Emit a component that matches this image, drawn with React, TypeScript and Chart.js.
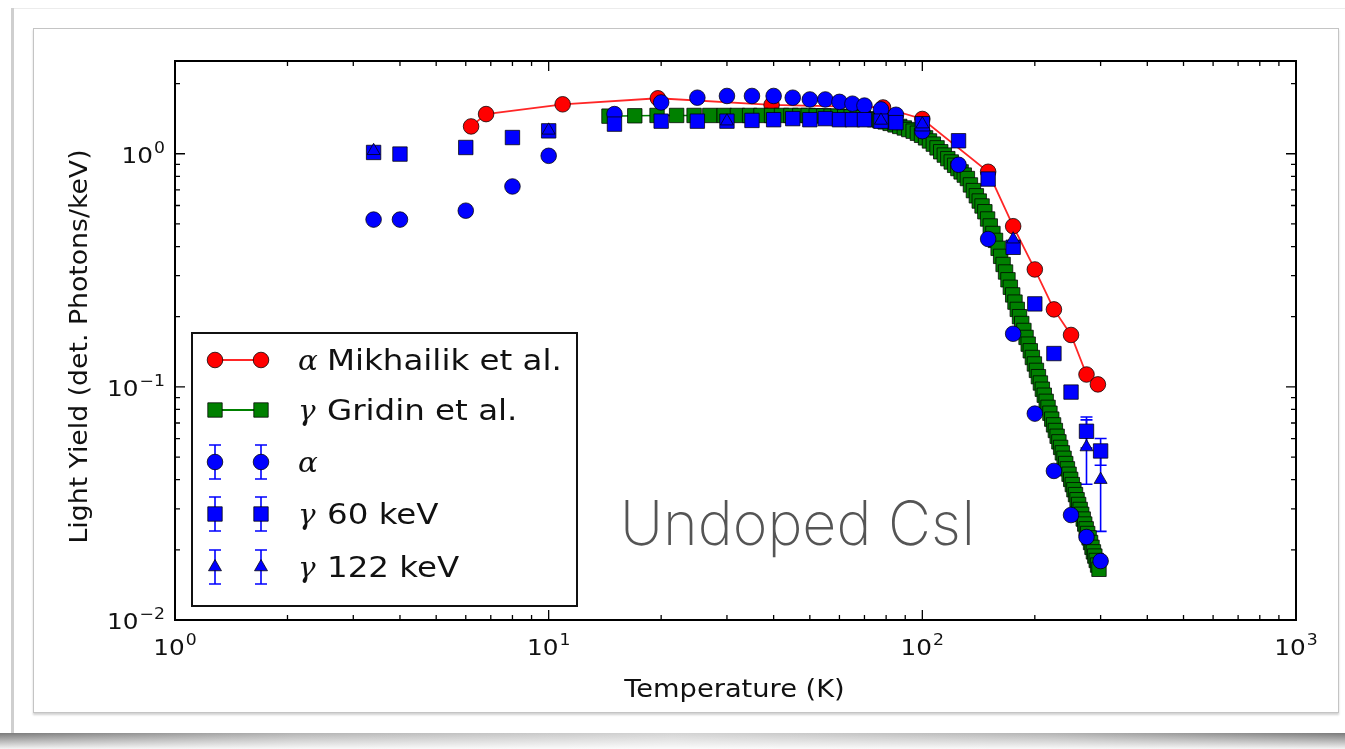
import React, { useEffect, useRef } from 'react';
import { Chart, registerables } from 'chart.js';

Chart.register(...registerables);

// ---------------- data ----------------
const mikhailikT = [6.2, 6.8, 10.9, 19.6, 39.5, 78.5, 100, 150, 175, 200, 225, 250, 275, 295];
const mikhailikLY = [1.31, 1.48, 1.63, 1.73, 1.62, 1.58, 1.41, 0.837, 0.489, 0.319, 0.215, 0.167, 0.113, 0.1025];

const gridinT = [
  14.5, 17, 19.5, 22, 24.5, 27, 29.5, 32, 34.5, 37,
  39.5, 42, 44.5, 47, 49.5, 52, 54.5, 57, 59.5, 62,
  64.5, 67, 69.5, 72, 74.5, 77, 79.5, 82, 84.5, 87,
  89.5, 92, 94.5, 97, 99.5, 102, 104.5, 107, 109.5, 112,
  114.5, 117, 119.5, 122, 124.5, 127, 129.5, 132, 134.5, 137,
  139.5, 142, 144.5, 147, 149.5, 152, 154.5, 157, 159.5, 162,
  164.5, 167, 169.5, 172, 174.5, 177, 179.5, 182, 184.5, 187,
  189.5, 192, 194.5, 197, 199.5, 202, 204.5, 207, 209.5, 212,
  214.5, 217, 219.5, 222, 224.5, 227, 229.5, 232, 234.5, 237,
  239.5, 242, 244.5, 247, 249.5, 252, 254.5, 257, 259.5, 262,
  264.5, 267, 269.5, 272, 274.5, 277, 279.5, 282, 284.5, 287,
  289.5, 292, 294.5, 297,
];
const gridinLY = [
  1.45, 1.455, 1.46, 1.46, 1.46, 1.46, 1.46, 1.46, 1.46, 1.46,
  1.46, 1.46, 1.46, 1.46, 1.46, 1.455, 1.455, 1.45, 1.45, 1.445,
  1.44, 1.435, 1.43, 1.415, 1.40, 1.385, 1.37, 1.35, 1.33, 1.31,
  1.29, 1.27, 1.25, 1.225, 1.20, 1.17, 1.135, 1.10, 1.06, 1.02,
  0.987, 0.953, 0.922, 0.892, 0.864, 0.836, 0.81, 0.783, 0.735, 0.695,
  0.66, 0.627, 0.597, 0.564, 0.525, 0.49, 0.455, 0.425, 0.393, 0.363,
  0.335, 0.311, 0.288, 0.2675, 0.248, 0.231, 0.215, 0.200, 0.187, 0.1746,
  0.163, 0.1525, 0.1428, 0.1337, 0.1254, 0.1177, 0.1106, 0.1039, 0.0977, 0.0921,
  0.0867, 0.0817, 0.0771, 0.0727, 0.0687, 0.0650, 0.0614, 0.0581, 0.0550, 0.0521,
  0.0494, 0.0469, 0.0445, 0.0422, 0.0401, 0.0381, 0.0362, 0.0345, 0.0328, 0.0313,
  0.0298, 0.0284, 0.0271, 0.0258, 0.0246, 0.0235, 0.0225, 0.0215, 0.0205, 0.0196,
  0.0188, 0.0180, 0.0172, 0.0165,
];

const alphaT = [3.4, 4, 6, 8, 10, 15, 20, 25, 30, 35, 40, 45, 50, 55, 60, 65, 70, 77.5, 85, 100, 125, 150, 175, 200, 225, 250, 275, 300];
const alphaLY = [0.522, 0.522, 0.570, 0.724, 0.98, 1.48, 1.66, 1.74, 1.77, 1.77, 1.77, 1.74, 1.71, 1.71, 1.67, 1.64, 1.61, 1.55, 1.47, 1.25, 0.897, 0.431, 0.169, 0.0768, 0.0436, 0.0282, 0.0227, 0.0179];

const gamma60T = [3.4, 4, 6, 8, 10, 15, 20, 25, 30, 35, 40, 45, 50, 55, 60, 65, 70, 77.5, 85, 100, 125, 150, 175, 200, 225, 250, 275, 300];
const gamma60LY = [1.013, 0.997, 1.064, 1.174, 1.254, 1.34, 1.38, 1.38, 1.38, 1.39, 1.40, 1.415, 1.40, 1.415, 1.40, 1.40, 1.40, 1.38, 1.36, 1.345, 1.137, 0.779, 0.397, 0.227, 0.139, 0.095, 0.0645, 0.0531];
const gamma60Err = [0, 0, 0, 0, 0, 0, 0, 0, 0, 0, 0, 0, 0, 0, 0, 0, 0, 0, 0, 0, 0, 0, 0, 0, 0, 0, 0.0098, 0.007];

const gamma122T = [3.4, 10, 30, 77.5, 100, 175, 275, 300];
const gamma122LY = [1.03, 1.26, 1.38, 1.39, 1.34, 0.43, 0.0552, 0.040];
const gamma122Err = [0, 0, 0, 0, 0, 0, 0.017, 0.016];

const xTickValues = [1, 10, 100, 1000];
const xTickExponents = ['0', '1', '2', '3'];
const yTickValues = [0.01, 0.1, 1];
const yTickExponents = ['\u22122', '\u22121', '0'];

const xTitle = 'Temperature (K)';
const yTitle = 'Light Yield (det. Photons/keV)';
const annotation = 'Undoped CsI';

const legendItems = [
  { greek: '\u03b1', text: 'Mikhailik et al.' },
  { greek: '\u03b3', text: 'Gridin et al.' },
  { greek: '\u03b1', text: '' },
  { greek: '\u03b3', text: '60 keV' },
  { greek: '\u03b3', text: '122 keV' },
];

// ---------------- styling ----------------
const RED = '#ff0000';
const GREEN = '#008000';
const BLUE = '#0000ff';
const EDGE = 'rgba(0,0,0,0.75)';
const R_CIRCLE = 7.8;
const R_RECT = 10.2;
const R_TRI = 7.5;

const toPts = (xs: number[], ys: number[]) => xs.map((x, i) => ({ x, y: ys[i] }));

function drawText(ctx: CanvasRenderingContext2D, s: string, x: number, y: number, font: string, sx: number, align: 'left' | 'center' | 'right', color = '#000') {
  ctx.save();
  ctx.font = font;
  ctx.fillStyle = color;
  ctx.textBaseline = 'alphabetic';
  ctx.textAlign = 'left';
  const w = ctx.measureText(s).width * sx;
  let x0 = x;
  if (align === 'center') x0 = x - w / 2;
  else if (align === 'right') x0 = x - w;
  ctx.translate(x0, y);
  ctx.scale(sx, 1);
  ctx.fillText(s, 0, 0);
  ctx.restore();
  return w;
}

function measure(ctx: CanvasRenderingContext2D, s: string, font: string, sx: number) {
  ctx.save();
  ctx.font = font;
  const w = ctx.measureText(s).width * sx;
  ctx.restore();
  return w;
}

const TICK_BASE = '21.5px "DejaVu Sans"';
const TICK_EXP = '15px "DejaVu Sans"';
const TICK_SX = 1.15;

function drawPow(ctx: CanvasRenderingContext2D, exp: string, x: number, y: number, align: 'center' | 'right') {
  const wb = measure(ctx, '10', TICK_BASE, TICK_SX);
  const we = measure(ctx, exp, TICK_EXP, TICK_SX);
  const total = wb + 1 + we;
  const x0 = align === 'center' ? x - total / 2 : x - total;
  drawText(ctx, '10', x0, y, TICK_BASE, TICK_SX, 'left', '#111');
  drawText(ctx, exp, x0 + wb + 1, y - 10, TICK_EXP, TICK_SX, 'left', '#111');
}

function marker(ctx: CanvasRenderingContext2D, style: string, x: number, y: number, fill: string) {
  ctx.beginPath();
  if (style === 'circle') {
    ctx.arc(x, y, R_CIRCLE, 0, Math.PI * 2);
  } else if (style === 'rect') {
    const s = R_RECT * Math.SQRT1_2;
    ctx.rect(x - s, y - s, 2 * s, 2 * s);
  } else {
    let rad = 0;
    ctx.moveTo(x + Math.sin(rad) * R_TRI, y - Math.cos(rad) * R_TRI);
    rad += (2 * Math.PI) / 3;
    ctx.lineTo(x + Math.sin(rad) * R_TRI, y - Math.cos(rad) * R_TRI);
    rad += (2 * Math.PI) / 3;
    ctx.lineTo(x + Math.sin(rad) * R_TRI, y - Math.cos(rad) * R_TRI);
    ctx.closePath();
  }
  ctx.fillStyle = fill;
  ctx.fill();
  ctx.lineWidth = 1;
  ctx.strokeStyle = EDGE;
  ctx.stroke();
}

function errBar(ctx: CanvasRenderingContext2D, x: number, y1: number, y2: number) {
  ctx.save();
  ctx.strokeStyle = BLUE;
  ctx.lineWidth = 1.6;
  ctx.beginPath();
  ctx.moveTo(x, y1);
  ctx.lineTo(x, y2);
  ctx.moveTo(x - 6, y1);
  ctx.lineTo(x + 6, y1);
  ctx.moveTo(x - 6, y2);
  ctx.lineTo(x + 6, y2);
  ctx.stroke();
  ctx.restore();
}

const decoPlugin = {
  id: 'deco',
  beforeDatasetsDraw(chart: any) {
    const ctx: CanvasRenderingContext2D = chart.ctx;
    const xs = chart.scales.x;
    const ys = chart.scales.y;
    const sets: [number[], number[], number[]][] = [
      [gamma60T, gamma60LY, gamma60Err],
      [gamma122T, gamma122LY, gamma122Err],
    ];
    sets.forEach(([t, v, e]) => {
      t.forEach((tv, i) => {
        if (e[i] > 0) {
          errBar(ctx, xs.getPixelForValue(tv), ys.getPixelForValue(v[i] + e[i]), ys.getPixelForValue(v[i] - e[i]));
        }
      });
    });
  },
  afterDraw(chart: any) {
    const ctx: CanvasRenderingContext2D = chart.ctx;
    const xs = chart.scales.x;
    const ys = chart.scales.y;
    const { left, right, top, bottom } = chart.chartArea;

    // ticks (inside, all four sides)
    ctx.save();
    ctx.strokeStyle = '#000';
    ctx.lineWidth = 1.3;
    ctx.beginPath();
    for (let k = 0; k <= 3; k++) {
      const base = Math.pow(10, k);
      const px = xs.getPixelForValue(base);
      ctx.moveTo(px, bottom); ctx.lineTo(px, bottom - 10);
      ctx.moveTo(px, top); ctx.lineTo(px, top + 10);
      if (k < 3) {
        for (let m = 2; m <= 9; m++) {
          const p = xs.getPixelForValue(m * base);
          ctx.moveTo(p, bottom); ctx.lineTo(p, bottom - 5);
          ctx.moveTo(p, top); ctx.lineTo(p, top + 5);
        }
      }
    }
    for (let k = -2; k <= 0; k++) {
      const base = Math.pow(10, k);
      const py = ys.getPixelForValue(base);
      ctx.moveTo(left, py); ctx.lineTo(left + 10, py);
      ctx.moveTo(right, py); ctx.lineTo(right - 10, py);
      for (let m = 2; m <= 9; m++) {
        const v = m * base;
        if (v > ys.max) break;
        const p = ys.getPixelForValue(v);
        ctx.moveTo(left, p); ctx.lineTo(left + 5, p);
        ctx.moveTo(right, p); ctx.lineTo(right - 5, p);
      }
    }
    ctx.stroke();
    ctx.lineWidth = 2;
    ctx.strokeRect(left, top, right - left, bottom - top);
    ctx.restore();

    // tick labels
    xTickValues.forEach((v, i) => drawPow(ctx, xTickExponents[i], xs.getPixelForValue(v), bottom + 35, 'center'));
    yTickValues.forEach((v, i) => drawPow(ctx, yTickExponents[i], left - 10, ys.getPixelForValue(v) + 9, 'right'));

    // axis titles
    drawText(ctx, xTitle, (left + right) / 2 - 1, bottom + 77, '25px "DejaVu Sans"', 1.09, 'center', '#111');
    ctx.save();
    ctx.translate(left - 88, (top + bottom) / 2 + 6);
    ctx.rotate(-Math.PI / 2);
    drawText(ctx, yTitle, 0, 0, '24.5px "DejaVu Sans"', 1.09, 'center', '#111');
    ctx.restore();

    // legend
    const L = left + 17;
    const T = top + 272;
    const R = left + 402;
    const B = bottom - 14;
    ctx.save();
    ctx.fillStyle = '#fff';
    ctx.fillRect(L, T, R - L, B - T);
    ctx.lineWidth = 2;
    ctx.strokeStyle = '#111';
    ctx.strokeRect(L, T, R - L, B - T);
    ctx.restore();
    const rowY = [27, 77, 129, 181, 234].map((d) => T + d);
    const m1 = L + 23;
    const m2 = L + 69;
    const styles = ['circle', 'rect', 'circle', 'rect', 'triangle'];
    const fills = [RED, GREEN, BLUE, BLUE, BLUE];
    legendItems.forEach((it, i) => {
      const y = rowY[i];
      if (i < 2) {
        ctx.save();
        ctx.strokeStyle = i === 0 ? 'rgba(255,0,0,0.85)' : GREEN;
        ctx.lineWidth = 1.8;
        ctx.beginPath();
        ctx.moveTo(m1, y);
        ctx.lineTo(m2, y);
        ctx.stroke();
        ctx.restore();
      } else {
        errBar(ctx, m1, y - 17, y + 17);
        errBar(ctx, m2, y - 17, y + 17);
      }
      marker(ctx, styles[i], m1, y, fills[i]);
      marker(ctx, styles[i], m2, y, fills[i]);
      drawText(ctx, it.greek, L + 106, y + 10, 'italic 28px "DejaVu Serif"', 1.05, 'left', '#111');
      if (it.text) drawText(ctx, it.text, L + 135, y + 10, '28px "DejaVu Sans"', 1.16, 'left', '#111');
    });

    // annotation
    drawText(ctx, annotation, left + 445, top + 484, '200 61px Inter', 0.97, 'left', '#555');
  },
};

export default function App() {
  const ref = useRef<HTMLCanvasElement>(null);
  useEffect(() => {
    const canvas = ref.current!;
    const chart = new Chart(canvas, {
      type: 'scatter',
      data: {
        datasets: [
          {
            label: 'alpha Mikhailik et al.',
            data: toPts(mikhailikT, mikhailikLY),
            showLine: true,
            borderColor: 'rgba(255,0,0,0.85)',
            borderWidth: 1.8,
            pointStyle: 'circle',
            pointRadius: R_CIRCLE,
            pointBackgroundColor: RED,
            pointBorderColor: EDGE,
            pointBorderWidth: 1,
            order: 5,
          },
          {
            label: 'gamma Gridin et al.',
            data: toPts(gridinT, gridinLY),
            showLine: true,
            borderColor: GREEN,
            borderWidth: 1.5,
            pointStyle: 'rect',
            pointRadius: R_RECT,
            pointBackgroundColor: GREEN,
            pointBorderColor: EDGE,
            pointBorderWidth: 1,
            order: 4,
          },
          {
            label: 'alpha',
            data: toPts(alphaT, alphaLY),
            showLine: false,
            pointStyle: 'circle',
            pointRadius: R_CIRCLE,
            pointBackgroundColor: BLUE,
            pointBorderColor: EDGE,
            pointBorderWidth: 1,
            order: 3,
          },
          {
            label: 'gamma 60 keV',
            data: toPts(gamma60T, gamma60LY),
            showLine: false,
            pointStyle: 'rect',
            pointRadius: R_RECT,
            pointBackgroundColor: BLUE,
            pointBorderColor: EDGE,
            pointBorderWidth: 1,
            order: 2,
          },
          {
            label: 'gamma 122 keV',
            data: toPts(gamma122T, gamma122LY),
            showLine: false,
            pointStyle: 'triangle',
            pointRadius: R_TRI,
            pointBackgroundColor: BLUE,
            pointBorderColor: EDGE,
            pointBorderWidth: 1,
            order: 1,
          },
        ],
      },
      options: {
        animation: false,
        responsive: false,
        maintainAspectRatio: false,
        events: [],
        layout: { padding: { left: 175, right: 49, top: 61, bottom: 129 } },
        scales: {
          x: { type: 'logarithmic', min: 1, max: 1000, display: false },
          y: { type: 'logarithmic', min: 0.01, max: 2.5, display: false },
        },
        plugins: { legend: { display: false }, tooltip: { enabled: false } },
      } as any,
      plugins: [decoPlugin],
    });
    return () => chart.destroy();
  }, []);

  return (
    <div style={{ position: 'absolute', left: 0, top: 0, width: 1345, height: 749, background: '#fff', overflow: 'hidden' }}>
      <div style={{ position: 'absolute', left: 11, top: 8, width: 1334, height: 1, background: '#ececec' }} />
      <div style={{ position: 'absolute', left: 11, top: 8, width: 3, height: 725, background: '#cfcfcf' }} />
      <div style={{ position: 'absolute', left: 0, top: 733, width: 1345, height: 16, background: 'linear-gradient(to right, #7a7a7a, #b4b4b4 22%, #d4d4d4 50%, #b4b4b4 78%, #7a7a7a)' }} />
      <div style={{ position: 'absolute', left: 0, top: 733, width: 1345, height: 16, background: 'linear-gradient(to bottom, rgba(255,255,255,0), rgba(255,255,255,0.92))' }} />
      <div style={{ position: 'absolute', left: 33, top: 28, width: 1304, height: 683, border: '1px solid #c4c4c4', boxShadow: '0 2px 2px rgba(0,0,0,0.18)', background: '#fff' }} />
      <canvas ref={ref} width={1345} height={749} style={{ position: 'absolute', left: 0, top: 0, width: 1345, height: 749 }} />
    </div>
  );
}
